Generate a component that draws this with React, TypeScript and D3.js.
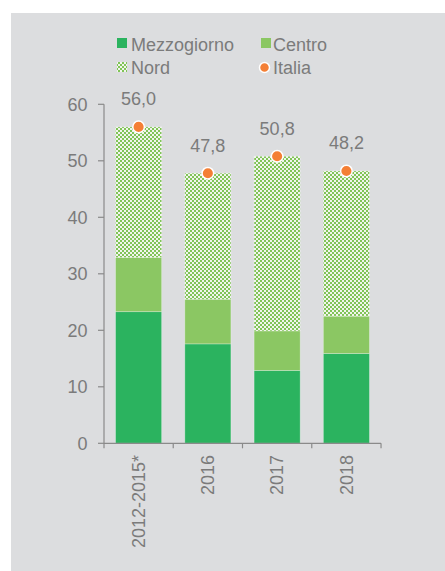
import React from "react";
import * as d3 from "d3";

const categories = ["2012-2015*", "2016", "2017", "2018"];
const mezzogiorno = [23.3, 17.6, 12.9, 15.9];
const centro = [9.6, 7.9, 7.0, 6.6];
const nord = [23.1, 22.3, 30.9, 25.7];
const italia = [56.0, 47.8, 50.8, 48.2];
const italiaLabels = ["56,0", "47,8", "50,8", "48,2"];
const yTicks = [0, 10, 20, 30, 40, 50, 60];

const W = 445, H = 571;
const FONT = "'Liberation Sans', Arial, sans-serif";
const TEXT = "#7b7b7b";
const AXIS = "#8a8a8a";
const C_MEZ = "#2bb35f";
const C_CEN = "#8bc763";
const C_ORANGE = "#f47f35";

export default function App() {
  const x = d3.scaleBand<string>().domain(categories).range([104, 381]).paddingInner(0.335).paddingOuter(0.167);
  const y = d3.scaleLinear().domain([0, 60]).range([443.3, 104.3]);
  const series = [
    { key: "mez", values: mezzogiorno, fill: C_MEZ },
    { key: "cen", values: centro, fill: C_CEN },
    { key: "nord", values: nord, fill: "url(#checker)" },
  ];
  const stackData = categories.map((c, i) => ({ c, mez: mezzogiorno[i], cen: centro[i], nord: nord[i] }));
  const stacked = d3.stack<any>().keys(["mez", "cen", "nord"])(stackData);
  const step = x.step();
  const boundaries = [104, ...categories.map((c) => (x(c) as number) + x.bandwidth() + (step - x.bandwidth()) / 2)];

  return (
    <svg width={W} height={H} style={{ position: "absolute", left: 0, top: 0 }} fontFamily={FONT}>
      <defs>
        <pattern id="checker" width="4" height="4" patternUnits="userSpaceOnUse">
          <rect width="4" height="4" fill="#f1f5ec" />
          <rect x="0" y="0" width="2" height="2" fill="#80c457" />
          <rect x="2" y="2" width="2" height="2" fill="#80c457" />
        </pattern>
      </defs>
      <rect x={11} y={13} width={W - 11} height={H - 13} fill="#dcdddf" />

      {/* legend */}
      <g fontSize={18} fill={TEXT}>
        <rect x={117} y={38} width={10} height={10} fill={C_MEZ} />
        <text x={131} y={51}>Mezzogiorno</text>
        <rect x={261} y={38} width={10} height={10} fill={C_CEN} />
        <text x={273} y={51}>Centro</text>
        <rect x={117} y={62} width={10} height={10} fill="url(#checker)" />
        <text x={131} y={73.5}>Nord</text>
        <circle cx={264.5} cy={67.5} r={5} fill={C_ORANGE} stroke="#fff" strokeWidth={1.5} />
        <text x={273} y={73.5}>Italia</text>
      </g>

      {/* bars */}
      {stacked.map((s, si) => (
        <g key={s.key} fill={series[si].fill}>
          {s.map((d, i) => (
            <rect key={i} x={x(categories[i])} y={y(d[1])} width={x.bandwidth()} height={y(d[0]) - y(d[1])}
              stroke="rgba(255,255,255,0.35)" strokeWidth={0.8} />
          ))}
        </g>
      ))}

      {/* y axis */}
      <line x1={104} x2={104} y1={y(60)} y2={y(0)} stroke={AXIS} strokeWidth={1.2} />
      {yTicks.map((t) => (
        <g key={t}>
          <line x1={98} x2={104} y1={y(t)} y2={y(t)} stroke={AXIS} strokeWidth={1.2} />
          <text x={87.5} y={y(t)} dy="0.35em" textAnchor="end" fontSize={18} fill={TEXT}>{t}</text>
        </g>
      ))}

      {/* x axis */}
      <line x1={104} x2={381} y1={y(0)} y2={y(0)} stroke={AXIS} strokeWidth={1.2} />
      {boundaries.map((b, i) => (
        <line key={i} x1={b} x2={b} y1={y(0)} y2={y(0) + 5} stroke={AXIS} strokeWidth={1.2} />
      ))}
      {categories.map((c) => {
        const cx = (x(c) as number) + x.bandwidth() / 2;
        return (
          <text key={c} transform={`translate(${cx},455) rotate(-90)`} dy="0.35em" textAnchor="end" fontSize={18} fill={TEXT}>{c}</text>
        );
      })}

      {/* italia dots and labels */}
      {categories.map((c, i) => {
        const cx = (x(c) as number) + x.bandwidth() / 2;
        return (
          <g key={c}>
            <circle cx={cx} cy={y(italia[i])} r={5.8} fill={C_ORANGE} stroke="#fff" strokeWidth={1.5} />
            <text x={cx} y={y(italia[i]) - 21.5} textAnchor="middle" fontSize={18} fill={TEXT}>{italiaLabels[i]}</text>
          </g>
        );
      })}
    </svg>
  );
}
